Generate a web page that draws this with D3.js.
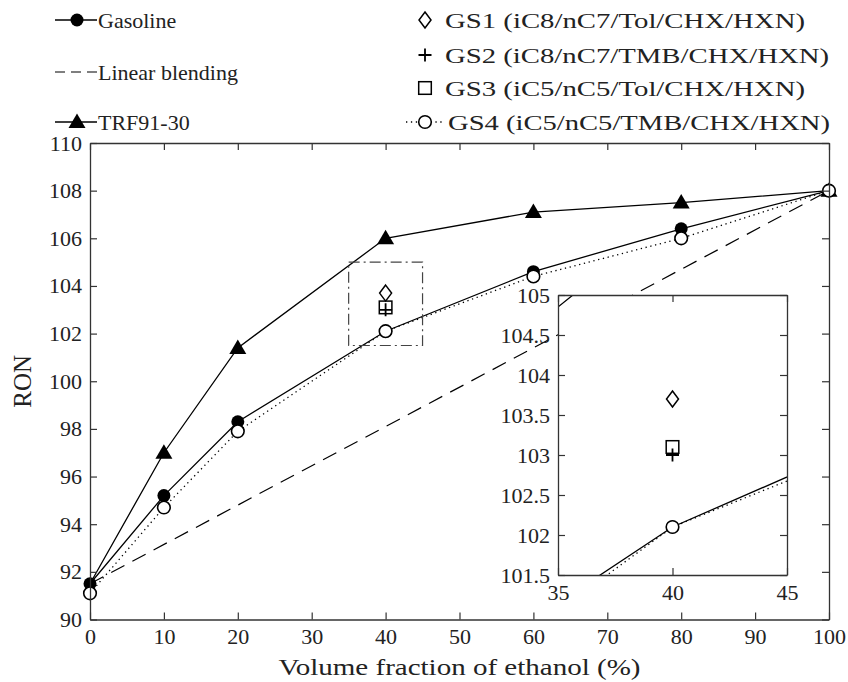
<!DOCTYPE html>
<html>
<head>
<meta charset="utf-8">
<script src="https://cdn.jsdelivr.net/npm/d3@7"></script>
<style>
  body { margin: 0; background: #fff; }
  svg text { font-family: "Liberation Serif", "DejaVu Serif", serif; fill: #222; }
</style>
</head>
<body>
<div id="wrapper"></div>
<script>
// RON values
const ethanol = [0, 10, 20, 40, 60, 80, 100]
const gasoline = [91.5, 95.2, 98.3, 102.1, 104.6, 106.4, 108.0]
const trf9130 = [91.5, 97.0, 101.4, 106.0, 107.1, 107.5, 108.0]
const gs4 = [91.1, 94.7, 97.9, 102.1, 104.4, 106.0, 108.0]
const linearX = [0, 100]
const linearRon = [91.5, 108.0]

// single surrogates at 40 %
const surrogateX = 40
const gs1 = 103.7
const gs2 = 103.0
const gs3 = 103.1

const xTicks = [0, 10, 20, 30, 40, 50, 60, 70, 80, 90, 100]
const yTicks = [90, 92, 94, 96, 98, 100, 102, 104, 106, 108, 110]

// zoomed window
const zoomX = [35, 45]
const zoomY = [101.5, 105]
const insetXTicks = [35, 40, 45]
const insetYTicks = [101.5, 102, 102.5, 103, 103.5, 104, 104.5, 105]

const legendLeft = ["Gasoline", "Linear blending", "TRF91-30"]
const legendRight = [
  "GS1 (iC8/nC7/Tol/CHX/HXN)",
  "GS2 (iC8/nC7/TMB/CHX/HXN)",
  "GS3 (iC5/nC5/Tol/CHX/HXN)",
  "GS4 (iC5/nC5/TMB/CHX/HXN)"
]

const serif = "'Liberation Serif', 'DejaVu Serif', serif"

function drawChart() {
  const dimensions = {
    width: 848,
    height: 682,
    margin: { top: 143, right: 19, bottom: 62.5, left: 90 }
  }
  dimensions.boundedWidth = dimensions.width - dimensions.margin.left - dimensions.margin.right
  dimensions.boundedHeight = dimensions.height - dimensions.margin.top - dimensions.margin.bottom

  const wrapper = d3.select("#wrapper")
    .append("svg")
      .attr("width", dimensions.width)
      .attr("height", dimensions.height)
      .style("font-family", serif)

  const bounds = wrapper.append("g")
    .attr("transform", `translate(${dimensions.margin.left},${dimensions.margin.top})`)

  const xScale = d3.scaleLinear().domain([0, 100]).range([0, dimensions.boundedWidth])
  const yScale = d3.scaleLinear().domain([90, 110]).range([dimensions.boundedHeight, 0])

  const axisColor = "#333"
  const tick = 7

  // marker shapes
  function marker(sel, shape, x, y) {
    if (shape === "dot") {
      sel.append("circle").attr("cx", x).attr("cy", y).attr("r", 6.5).attr("fill", "#000")
    } else if (shape === "circle") {
      sel.append("circle").attr("cx", x).attr("cy", y).attr("r", 6.3)
        .attr("fill", "#fff").attr("stroke", "#000").attr("stroke-width", 1.6)
    } else if (shape === "triangle") {
      sel.append("path").attr("d", `M${x},${y - 8.5}L${x + 8.5},${y + 6}L${x - 8.5},${y + 6}Z`).attr("fill", "#000")
    } else if (shape === "diamond") {
      sel.append("path").attr("d", `M${x},${y - 8}L${x + 6},${y}L${x},${y + 8}L${x - 6},${y}Z`)
        .attr("fill", "#fff").attr("stroke", "#000").attr("stroke-width", 1.5)
    } else if (shape === "plus") {
      sel.append("path").attr("d", `M${x - 6.5},${y}H${x + 6.5}M${x},${y - 6.5}V${y + 6.5}`)
        .attr("stroke", "#000").attr("stroke-width", 1.8)
    } else if (shape === "square") {
      sel.append("rect").attr("x", x - 6.3).attr("y", y - 6.3).attr("width", 12.6).attr("height", 12.6)
        .attr("fill", "none").attr("stroke", "#000").attr("stroke-width", 1.5)
    }
  }

  const styles = {
    solid: { dash: null, width: 1.3 },
    dashed: { dash: "15,9", width: 1.2 },
    dotted: { dash: "1.3,3.6", width: 1.3 }
  }

  // draws every series into a group with the given scales
  function drawSeries(g, xs, ys) {
    const line = (xv, yv) => d3.line()
      .x((d, i) => xs(xv[i]))
      .y(d => ys(d))(yv)
    const path = (d, style) => g.append("path")
      .attr("d", d)
      .attr("fill", "none")
      .attr("stroke", "#000")
      .attr("stroke-width", styles[style].width)
      .attr("stroke-dasharray", styles[style].dash)

    path(line(linearX, linearRon), "dashed")
    path(line(ethanol, trf9130), "solid")
    path(line(ethanol, gasoline), "solid")
    path(line(ethanol, gs4), "dotted")

    // TRF starts from the gasoline point itself, no marker drawn at 0
    trf9130.forEach((v, i) => { if (i > 0) marker(g, "triangle", xs(ethanol[i]), ys(v)) })
    gasoline.forEach((v, i) => marker(g, "dot", xs(ethanol[i]), ys(v)))
    gs4.forEach((v, i) => marker(g, "circle", xs(ethanol[i]), ys(v)))

    marker(g, "diamond", xs(surrogateX), ys(gs1))
    marker(g, "plus", xs(surrogateX), ys(gs2))
    marker(g, "square", xs(surrogateX), ys(gs3))
  }

  drawSeries(bounds.append("g"), xScale, yScale)

  // dash-dot box around the zoomed window
  bounds.append("rect")
    .attr("x", xScale(zoomX[0]))
    .attr("y", yScale(zoomY[1]))
    .attr("width", xScale(zoomX[1]) - xScale(zoomX[0]))
    .attr("height", yScale(zoomY[0]) - yScale(zoomY[1]))
    .attr("fill", "none")
    .attr("stroke", "#444")
    .attr("stroke-width", 1.2)
    .attr("stroke-dasharray", "11,4,2,4")

  // axes, boxed with inward ticks
  function boxAxes(g, xs, ys, xt, yt, fontSize, w, h) {
    const styleAxis = a => {
      a.attr("font-family", null)
      a.select(".domain").attr("stroke", axisColor).attr("stroke-width", 1.3)
      a.selectAll(".tick line").attr("stroke", axisColor).attr("stroke-width", 1.2)
      a.selectAll("text").attr("fill", "#222")
        .style("font-family", serif)
        .style("font-size", fontSize + "px")
    }
    g.append("g")
      .attr("transform", `translate(0,${h})`)
      .call(d3.axisBottom(xs).tickValues(xt).tickSize(-tick).tickSizeOuter(0).tickPadding(9))
      .call(styleAxis)
      .selectAll("text").attr("dy", "0.71em")
    g.append("g")
      .call(d3.axisTop(xs).tickValues(xt).tickSize(-tick).tickSizeOuter(0).tickFormat(""))
      .call(styleAxis)
    g.append("g")
      .call(d3.axisLeft(ys).tickValues(yt).tickSize(-tick).tickSizeOuter(0).tickPadding(8).tickFormat(d3.format("")))
      .call(styleAxis)
    g.append("g")
      .attr("transform", `translate(${w},0)`)
      .call(d3.axisRight(ys).tickValues(yt).tickSize(-tick).tickSizeOuter(0).tickFormat(""))
      .call(styleAxis)
  }

  boxAxes(bounds, xScale, yScale, xTicks, yTicks, 22, dimensions.boundedWidth, dimensions.boundedHeight)

  // axis labels
  bounds.append("text")
    .attr("x", dimensions.boundedWidth / 2)
    .attr("y", dimensions.boundedHeight + 55)
    .attr("text-anchor", "middle")
    .attr("textLength", 362)
    .attr("lengthAdjust", "spacingAndGlyphs")
    .style("font-size", "24px")
    .text("Volume fraction of ethanol (%)")

  wrapper.append("text")
    .attr("transform", `translate(31,${dimensions.margin.top + dimensions.boundedHeight / 2}) rotate(-90)`)
    .attr("text-anchor", "middle")
    .style("font-size", "25px")
    .text("RON")

  // inset
  const inset = { left: 558, top: 295, width: 229, height: 280 }
  const insetG = wrapper.append("g")
    .attr("transform", `translate(${inset.left},${inset.top})`)
  const ixScale = d3.scaleLinear().domain(zoomX).range([0, inset.width])
  const iyScale = d3.scaleLinear().domain(zoomY).range([inset.height, 0])

  insetG.append("rect")
    .attr("width", inset.width)
    .attr("height", inset.height)
    .attr("fill", "#fff")

  wrapper.append("clipPath").attr("id", "insetClip")
    .append("rect").attr("width", inset.width).attr("height", inset.height)

  drawSeries(insetG.append("g").attr("clip-path", "url(#insetClip)"), ixScale, iyScale)
  boxAxes(insetG, ixScale, iyScale, insetXTicks, insetYTicks, 22, inset.width, inset.height)

  // legend
  const legend = wrapper.append("g")
  const leftRows = [20, 72, 122]
  const rightRows = [20, 55, 88, 122]
  const rightWidths = [360, 384, 360, 382]

  const legLine = (x1, x2, y, style, dash) => legend.append("line")
    .attr("x1", x1).attr("x2", x2).attr("y1", y).attr("y2", y)
    .attr("stroke", "#000")
    .attr("stroke-width", styles[style].width)
    .attr("stroke-dasharray", dash || styles[style].dash)

  legLine(55, 97, leftRows[0], "solid")
  marker(legend, "dot", 77, leftRows[0])
  legLine(55, 97, leftRows[1], "dashed", "10,6")
  legLine(55, 97, leftRows[2], "solid")
  marker(legend, "triangle", 77, leftRows[2])

  legendLeft.forEach((t, i) => legend.append("text")
    .attr("x", 98).attr("y", leftRows[i]).attr("dy", "0.35em")
    .style("font-size", "22px")
    .text(t))

  marker(legend, "diamond", 425, rightRows[0])
  marker(legend, "plus", 425, rightRows[1])
  marker(legend, "square", 425, rightRows[2])
  legLine(406, 445, rightRows[3], "dotted")
  marker(legend, "circle", 425, rightRows[3])

  legendRight.forEach((t, i) => legend.append("text")
    .attr("x", i === 3 ? 448 : 445).attr("y", rightRows[i]).attr("dy", "0.35em")
    .attr("textLength", rightWidths[i])
    .attr("lengthAdjust", "spacingAndGlyphs")
    .style("font-size", "22px")
    .text(t))
}

drawChart()
</script>
</body>
</html>
